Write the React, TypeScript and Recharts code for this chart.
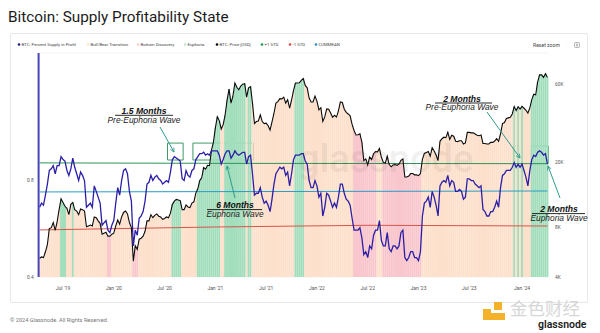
import React from 'react';
import { ComposedChart, Bar, Line, XAxis, YAxis, CartesianGrid, Cell, ReferenceArea } from 'recharts';

// weekly samples, first week starts 2019-04-08
const PRICE = [
  // 2019
  5200, 5300, 5250, 5700, 6300, 7900, 8000, 8600, 7700, 8700, 10300, 12000, 11400, 10800, 10500, 9600, 11100, 11400, 10300, 10100,
  9600, 10400, 10300, 10100, 8100, 8200, 8300, 8200, 9300, 9200, 8800, 8500, 7300, 7400, 7500, 7100, 7100, 7300, 7400,
  // 2020
  8200, 8900, 8400, 9300, 9900, 10100, 9700, 8600, 8000, 5000, 6200, 5900, 6800, 6900, 7100, 7600, 8800, 8800, 9600, 9200,
  9500, 9700, 9400, 9300, 9000, 9100, 9300, 9200, 9800, 11100, 11600, 11900, 11800, 11700, 10300, 10300, 11000, 10700, 10600, 11300,
  11500, 13000, 13800, 15500, 16100, 18600, 18200, 19200, 19100, 23800, 26500, 32500,
  // 2021
  38000, 36000, 32000, 34000, 39000, 48000, 56000, 46000, 51000, 61000, 57500, 55500, 58500, 60000, 60500, 50000, 57000, 58000, 46000, 34500,
  35500, 35800, 39000, 35500, 34500, 34700, 33500, 31500, 35400, 39900, 46000, 47000, 49000, 48800, 50000, 46000, 48300, 42800, 48000, 54800,
  61000, 61000, 61300, 63300, 65000, 59000, 57000, 49400, 46700, 46700, 50800, 47300,
  // 2022
  41800, 43100, 35500, 37900, 42400, 42200, 40000, 37700, 38800, 37800, 41300, 46800, 46400, 42200, 40400, 39500, 38500, 34100, 31300, 29400,
  29500, 29900, 26600, 20500, 21000, 19300, 21600, 20800, 22600, 23300, 23200, 24300, 21500, 20000, 19800, 21800, 19400, 18800, 19300, 19400,
  19200, 19500, 20600, 21000, 16300, 16300, 16500, 17100, 17100, 16800, 16800, 16600,
  // 2023
  17100, 20900, 22700, 23000, 23300, 21800, 24600, 23500, 22200, 20500, 26900, 27900, 28500, 28300, 30500, 27600, 29300, 28900, 26900, 26800,
  27100, 27100, 25900, 26300, 30500, 30500, 30300, 30300, 29800, 29300, 29100, 29400, 26100, 26100, 25900, 25900, 26500, 26500, 27000, 27900,
  26900, 29900, 34500, 35000, 37100, 37400, 37700, 39500, 43800, 41400, 43700, 42300,
  // 2024
  43900, 42800, 41600, 40000, 43000, 48300, 52100, 51700, 62000, 68500, 68400, 66000, 69600, 66000,
];

const SUPPLY = [
  // 2019
  0.66, 0.68, 0.67, 0.72, 0.78, 0.86, 0.87, 0.89, 0.84, 0.89, 0.89, 0.95, 0.93, 0.92, 0.86, 0.83, 0.87, 0.94, 0.88, 0.84,
  0.80, 0.85, 0.83, 0.80, 0.66, 0.67, 0.68, 0.66, 0.77, 0.74, 0.71, 0.68, 0.58, 0.59, 0.60, 0.56, 0.55, 0.58, 0.60,
  // 2020
  0.68, 0.76, 0.72, 0.80, 0.86, 0.87, 0.84, 0.74, 0.69, 0.50, 0.56, 0.54, 0.61, 0.62, 0.64, 0.69, 0.78, 0.79, 0.83, 0.80,
  0.82, 0.83, 0.81, 0.80, 0.78, 0.79, 0.80, 0.79, 0.85, 0.93, 0.95, 0.94, 0.93, 0.92, 0.81, 0.80, 0.86, 0.83, 0.82, 0.86,
  0.87, 0.93, 0.95, 0.97, 0.97, 0.98, 0.96, 0.97, 0.96, 0.99, 0.99, 0.99,
  // 2021
  0.99, 0.96, 0.90, 0.93, 0.97, 0.99, 0.99, 0.94, 0.96, 0.99, 0.97, 0.96, 0.97, 0.98, 0.98, 0.90, 0.95, 0.96, 0.84, 0.72,
  0.73, 0.73, 0.76, 0.71, 0.68, 0.69, 0.67, 0.64, 0.70, 0.78, 0.84, 0.86, 0.88, 0.87, 0.88, 0.83, 0.85, 0.77, 0.84, 0.93,
  0.96, 0.96, 0.96, 0.97, 0.97, 0.92, 0.90, 0.80, 0.76, 0.76, 0.80, 0.77,
  // 2022
  0.71, 0.73, 0.62, 0.66, 0.73, 0.72, 0.69, 0.66, 0.68, 0.66, 0.71, 0.78, 0.78, 0.73, 0.70, 0.69, 0.67, 0.61, 0.56, 0.56,
  0.56, 0.57, 0.53, 0.47, 0.48, 0.46, 0.50, 0.49, 0.54, 0.56, 0.56, 0.60, 0.52, 0.50, 0.50, 0.55, 0.49, 0.48, 0.50, 0.50,
  0.49, 0.50, 0.55, 0.56, 0.46, 0.45, 0.46, 0.48, 0.48, 0.46, 0.46, 0.45,
  // 2023
  0.48, 0.62, 0.68, 0.69, 0.71, 0.66, 0.74, 0.71, 0.67, 0.62, 0.77, 0.79, 0.80, 0.79, 0.83, 0.77, 0.80, 0.79, 0.74, 0.74,
  0.75, 0.74, 0.70, 0.71, 0.81, 0.81, 0.80, 0.80, 0.78, 0.77, 0.76, 0.77, 0.65, 0.64, 0.62, 0.62, 0.64, 0.64, 0.66, 0.69,
  0.66, 0.76, 0.83, 0.84, 0.86, 0.86, 0.86, 0.88, 0.91, 0.88, 0.90, 0.88,
  // 2024
  0.90, 0.86, 0.82, 0.77, 0.86, 0.93, 0.96, 0.95, 0.98, 0.99, 0.98, 0.96, 0.97, 0.90,
];

// shaded regimes, inclusive week ranges
const EUPHORIA = [
  ['2019-06-24', '2019-07-08'], ['2019-08-05', '2019-08-05'], ['2020-07-27', '2020-08-24'],
  ['2020-10-26', '2021-01-11'], ['2021-02-01', '2021-04-12'], ['2021-04-26', '2021-05-03'],
  ['2021-10-11', '2021-11-08'], ['2023-12-04', '2023-12-04'], ['2023-12-18', '2023-12-18'],
  ['2024-01-01', '2024-01-01'], ['2024-02-05', '2024-04-01'],
];
const BOTTOM = [
  ['2019-12-09', '2019-12-16'], ['2020-03-09', '2020-03-23'], ['2022-05-09', '2022-07-25'], ['2022-08-22', '2023-01-02'],
];

// band lines (sparse, drawn straight between points)
const PLUS_STD = [['2019-04-08', 0.908], ['2021-03-08', 0.905], ['2024-04-01', 0.903]];
const CUM_MEAN = [['2019-04-08', 0.737], ['2024-04-01', 0.742]];
const MINUS_STD = [['2019-04-08', 0.561], ['2019-12-30', 0.566], ['2020-12-28', 0.573], ['2022-06-27', 0.58], ['2024-04-01', 0.577]];

const TICK_WEEKS = ['2019-07-01', '2019-12-30', '2020-06-29', '2020-12-28', '2021-06-28', '2021-12-27', '2022-06-27', '2022-12-26', '2023-06-26', '2024-01-01'];
const TICK_LABELS = ["Jul '19", "Jan '20", "Jul '20", "Jan '21", "Jul '21", "Jan '22", "Jul '22", "Jan '23", "Jul '23", "Jan '24"];

// highlighted waves: [from, to, low, high]
const BOXES = [
  ['2020-07-13', '2020-08-31', 0.927, 1.047],
  ['2020-10-12', '2021-05-10', 0.927, 1.047],
  ['2023-12-04', '2024-01-15', 0.914, 1.025],
  ['2024-02-05', '2024-04-01', 0.905, 1.025],
];

const STATE_FILL: Record<string, string> = { transition: '#fde0cb', bottom: '#f8c6cc', euphoria: '#a2debc' };

const weekOf = (i: number) => new Date(Date.UTC(2019, 3, 8) + i * 7 * 864e5).toISOString().slice(0, 10);
const inRanges = (d: string, ranges: string[][]) => ranges.some(([a, b]) => d >= a && d <= b);
const pick = (pts: any[], d: string) => {
  const hit = pts.find((p) => p[0] === d);
  return hit ? hit[1] : null;
};

const rows = PRICE.map((price, i) => {
  const date = weekOf(i);
  const state = inRanges(date, EUPHORIA) ? 'euphoria' : inRanges(date, BOTTOM) ? 'bottom' : 'transition';
  return {
    date,
    price,
    supply: SUPPLY[i],
    state,
    upper: pick(PLUS_STD, date),
    mean: pick(CUM_MEAN, date),
    lower: pick(MINUS_STD, date),
  };
});

const GRID_TICKS = Array.from({ length: 15 }, (_, i) => i);

const LEGEND = [
  { x: 19, color: '#1d1a8f', label: 'BTC: Percent Supply in Profit' },
  { x: 88, color: '#fde3cf', label: 'Bull/Bear Transition' },
  { x: 138, color: '#f9cdd2', label: 'Bottom Discovery' },
  { x: 185, color: '#bfe5cf', label: 'Euphoria' },
  { x: 217, color: '#000000', label: 'BTC: Price [USD]' },
  { x: 262, color: '#1f9a4b', label: '+1 STD' },
  { x: 290, color: '#e0434a', label: '-1 STD' },
  { x: 316, color: '#2390c6', label: 'CUMMEAN' },
];

const ANNO = 'Liberation Sans, Arial, sans-serif';
const ARROW = '#2f9a8c';

function Note({ x, y, title, sub, lineFrom, lineTo }: any) {
  return (
    <g fontFamily={ANNO} fill="#111" textAnchor="middle">
      <text x={x} y={y} fontSize={8.6} fontWeight={700} fontStyle="italic">{title}</text>
      <line x1={lineFrom} x2={lineTo} y1={y + 1.3} y2={y + 1.3} stroke="#111" strokeWidth={0.9} />
      <text x={x} y={y + 8.5} fontSize={8.4} fontStyle="italic" fill="#222">{sub}</text>
    </g>
  );
}

export default function App() {
  return (
    <div style={{ position: 'absolute', left: 0, top: 0, width: 600, height: 333, background: '#fff', overflow: 'hidden' }}>
      <div style={{ position: 'absolute', left: 10, top: 33, width: 578, height: 270, border: '1px solid #e8e8e8', boxSizing: 'border-box', borderRadius: 2 }} />
      <div style={{ position: 'absolute', left: 0, top: 0 }}>
        <ComposedChart width={600} height={333} data={rows} margin={{ top: 53, right: 21.6, bottom: 36, left: 18.6 }} barCategoryGap={0} barGap={0}>
          <YAxis yAxisId="grid" hide orientation="right" width={0} type="number" domain={[0, 14]} ticks={GRID_TICKS} />
          <CartesianGrid yAxisId="grid" vertical={false} stroke="#f1f1f1" strokeWidth={0.8} />
          <XAxis
            dataKey="date"
            ticks={TICK_WEEKS}
            interval={0}
            tickFormatter={(d) => TICK_LABELS[TICK_WEEKS.indexOf(d)]}
            axisLine={false}
            tickLine={false}
            tickSize={3}
            tickMargin={6}
            height={20}
            tick={{ fontSize: 5, fill: '#555', fontFamily: 'Roboto' }}
          />
          <YAxis
            yAxisId="supply"
            orientation="left"
            type="number"
            scale="log"
            domain={[0.4, 2]}
            allowDataOverflow
            ticks={[0.4, 0.8]}
            width={20}
            axisLine={{ stroke: '#4a44b8', strokeWidth: 2 }}
            tickLine={false}
            tickSize={3}
            tickMargin={2}
            tick={{ fontSize: 4.8, fill: '#555', fontFamily: 'Roboto' }}
          />
          <YAxis
            yAxisId="price"
            orientation="right"
            type="number"
            scale="log"
            domain={[4000, 93000]}
            allowDataOverflow
            ticks={[4000, 8000, 20000, 60000]}
            tickFormatter={(v) => `${v / 1000}K`}
            width={30}
            axisLine={false}
            tickLine={false}
            tickSize={3}
            tickMargin={3.6}
            tick={{ fontSize: 4.8, fill: '#555', fontFamily: 'Roboto', textAnchor: 'start' }}
          />
          <Bar yAxisId="price" dataKey="price" isAnimationActive={false}>
            {rows.map((r, i) => (
              <Cell key={`s-${i}`} fill={STATE_FILL[r.state]} />
            ))}
          </Bar>
          <Line yAxisId="supply" dataKey="upper" stroke="#2f9358" strokeWidth={1} dot={false} connectNulls isAnimationActive={false} />
          <Line yAxisId="supply" dataKey="mean" stroke="#2a9cc6" strokeWidth={1} dot={false} connectNulls isAnimationActive={false} />
          <Line yAxisId="supply" dataKey="lower" stroke="#d5564a" strokeWidth={1} dot={false} connectNulls isAnimationActive={false} />
          <Line yAxisId="price" dataKey="price" stroke="#0b0b0b" strokeWidth={1.1} dot={false} isAnimationActive={false} />
          <Line yAxisId="supply" dataKey="supply" stroke="#2b1fa8" strokeWidth={1.3} dot={false} isAnimationActive={false} />
          {BOXES.map(([a, b, lo, hi], i) => (
            <ReferenceArea key={`b-${i}`} yAxisId="supply" x1={a} x2={b} y1={lo} y2={hi} fill="none" stroke="#3f9a68" strokeWidth={1} ifOverflow="visible" />
          ))}
        </ComposedChart>
      </div>

      <svg width={600} height={333} style={{ position: 'absolute', left: 0, top: 0, pointerEvents: 'none' }}>
        <defs>
          <marker id="arr" viewBox="0 0 10 10" refX="9" refY="5" markerWidth="5" markerHeight="5" orient="auto">
            <path d="M1,1 L9,5 L1,9" fill="none" stroke={ARROW} strokeWidth={1.6} />
          </marker>
        </defs>
        <text x={8} y={22} fontFamily="Roboto" fontSize={15.3} fill="#1b1b1b">Bitcoin: Supply Profitability State</text>

        {LEGEND.map((l) => (
          <g key={l.label}>
            <circle cx={l.x} cy={44.5} r={1.3} fill={l.color} />
            <text x={l.x + 2.5} y={46} fontFamily="Roboto" fontSize={4.3} fill="#444">{l.label}</text>
          </g>
        ))}
        <text x={533} y={46.8} fontFamily="Roboto" fontSize={5.1} fill="#444">Reset zoom</text>
        <g stroke="#777" strokeWidth={0.5} fill="none">
          <rect x={574.5} y={42.5} width={5} height={5} rx={0.8} />
          <line x1={575.8} x2={578.2} y1={44} y2={44} />
          <line x1={575.8} x2={578.2} y1={45} y2={45} />
          <line x1={575.8} x2={578.2} y1={46} y2={46} />
        </g>

        <text x={298} y={172} fontFamily="Roboto" fontWeight={500} fontSize={38} fill="#000" opacity={0.05}>glassnode</text>

        <Note x={144} y={114} title="1.5 Months" sub="Pre-Euphoria Wave" lineFrom={115} lineTo={173} />
        <Note x={235} y={208.3} title="6 Months" sub="Euphoria Wave" lineFrom={207} lineTo={262} />
        <Note x={462} y={101.7} title="2 Months" sub="Pre-Euphoria Wave" lineFrom={435} lineTo={492} />
        <Note x={559} y={212.3} title="2 Months" sub="Euphoria Wave" lineFrom={532} lineTo={585} />

        <g stroke={ARROW} strokeWidth={1} markerEnd="url(#arr)">
          <line x1={160} y1={127} x2={174} y2={152} />
          <line x1={235} y1={198} x2={227} y2={166} />
          <line x1={487} y1={112} x2={520} y2={158} />
          <line x1={560} y1={198} x2={548} y2={166} />
        </g>

        <text x={10} y={322} fontFamily="Roboto" fontSize={5.6} fill="#777">© 2024 Glassnode. All Rights Reserved.</text>

        <g fill="#f3b229">
          <rect x={483} y={309} width={8} height={11} />
          <rect x={483} y={313} width={22} height={7} />
          <rect x={494} y={302} width={8} height={8} />
        </g>
        <text x={510} y={314.5} fontFamily="Noto Sans CJK SC" fontSize={17.5} fill="#d6d6d6">金色财经</text>
        <text x={538} y={328} fontFamily="Roboto" fontWeight={600} fontSize={10.5} fill="#1d1d1d">glassnode</text>
      </svg>
    </div>
  );
}
